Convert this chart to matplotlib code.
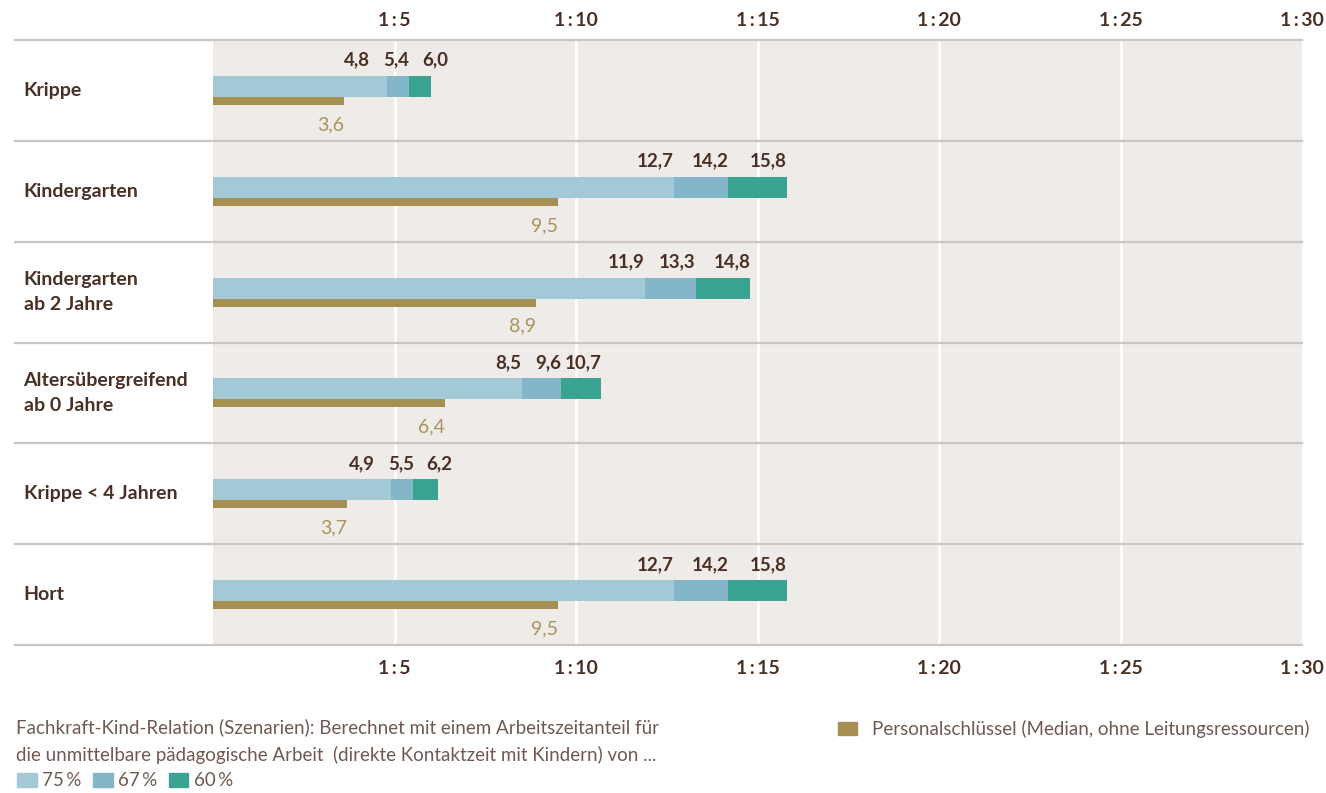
import matplotlib.pyplot as plt
from matplotlib.patches import Patch
import numpy as np

# data
categories = ["Krippe", "Kindergarten", "Kindergarten\nab 2 Jahre",
              "Altersübergreifend\nab 0 Jahre", "Krippe < 4 Jahren", "Hort"]
fkr_75 = [4.8, 12.7, 11.9, 8.5, 4.9, 12.7]
fkr_67 = [5.4, 14.2, 13.3, 9.6, 5.5, 14.2]
fkr_60 = [6.0, 15.8, 14.8, 10.7, 6.2, 15.8]
personal = [3.6, 9.5, 8.9, 6.4, 3.7, 9.5]
tick_vals = [5, 10, 15, 20, 25, 30]
tick_labels = ["1\u2009:\u20095", "1\u2009:\u200910", "1\u2009:\u200915",
               "1\u2009:\u200920", "1\u2009:\u200925", "1\u2009:\u200930"]

FONT = ["Lato", "DejaVu Sans"]
plt.rcParams['font.family'] = FONT

c75, c67, c60 = "#a3c9d7", "#83b6c9", "#3aa392"
c_gold = "#a68f52"
c_dark = "#4a3024"
c_goldtxt = "#a8955c"
c_legend = "#6e5a50"
c_bg = "#efebe8"
c_sep = "#c9c6c4"
FS = 14

fig = plt.figure(figsize=(13.26, 7.93), dpi=100)
ax = fig.add_axes([213/1326, 1 - 645/793, (1302-213)/1326, (645-40)/793])
ax.set_facecolor(c_bg)
ax.set_xlim(0, 30)
ax.set_ylim(len(categories), 0)

for v in tick_vals[:-1]:
    ax.axvline(v, color="white", lw=2, zorder=1)

for i in range(len(categories) + 1):
    ax.plot([-0.182, 1], [i, i], transform=ax.get_yaxis_transform(),
            color=c_sep, lw=1.6, clip_on=False, zorder=2)

y = np.arange(len(categories))
bh = 0.208
yb = y + 0.46
ax.barh(yb, fkr_75, height=bh, color=c75, zorder=3)
ax.barh(yb, np.subtract(fkr_67, fkr_75), left=fkr_75, height=bh, color=c67, zorder=3)
ax.barh(yb, np.subtract(fkr_60, fkr_67), left=fkr_67, height=bh, color=c60, zorder=3)
ax.barh(y + 0.604, personal, height=0.08, color=c_gold, zorder=3)

gap = 1.07
for i in range(len(categories)):
    vals = [fkr_75[i], fkr_67[i], fkr_60[i]]
    pos = list(vals)
    if min(np.diff(vals)) < gap:
        m = np.mean(vals)
        pos = [m - gap, m, m + gap]
    for p, v in zip(pos, vals):
        ax.text(p, i + 0.2, f"{v:.1f}".replace(".", ","), ha="right", va="center",
                fontsize=13.5, fontweight="bold", color=c_dark, zorder=4)
    ax.text(personal[i], i + 0.84, f"{personal[i]:.1f}".replace(".", ","),
            ha="right", va="center", fontsize=FS, color=c_goldtxt, zorder=4)
    ax.text(-0.174, i + 0.5, categories[i], transform=ax.get_yaxis_transform(),
            ha="left", va="center", fontsize=FS, fontweight="bold", color=c_dark,
            linespacing=1.6)

ax.set_xticks(tick_vals)
ax.set_xticklabels(tick_labels, fontweight="bold")
ax.set_yticks([])
ax.tick_params(axis="x", length=0, labelsize=FS, labelcolor=c_dark, pad=11)
top = ax.secondary_xaxis("top")
top.set_xticks(tick_vals)
top.set_xticklabels(tick_labels, fontweight="bold")
top.tick_params(axis="x", length=0, labelsize=FS, labelcolor=c_dark, pad=8)
for s in list(ax.spines.values()) + list(top.spines.values()):
    s.set_visible(False)

fig.text(16/1326, 1 - 727/793, "Fachkraft-Kind-Relation (Szenarien): Berechnet mit einem Arbeitszeitanteil für",
         ha="left", va="center", fontsize=13.5, color=c_legend)
fig.text(16/1326, 1 - 755/793, "die unmittelbare pädagogische Arbeit  (direkte Kontaktzeit mit Kindern) von ...",
         ha="left", va="center", fontsize=13.5, color=c_legend)

handles = [Patch(color=c75, label="75\u2009%"), Patch(color=c67, label="67\u2009%"),
           Patch(color=c60, label="60\u2009%")]
leg = fig.legend(handles=handles, loc="center left", bbox_to_anchor=(17/1326, 1 - 781/793),
                 ncol=3, frameon=False, fontsize=13.5, handlelength=1.05, handleheight=0.8,
                 handletextpad=0.3, columnspacing=0.6, borderaxespad=0, borderpad=0)
for t in leg.get_texts():
    t.set_color(c_legend)

leg2 = fig.legend(handles=[Patch(color=c_gold, label="Personalschlüssel (Median, ohne Leitungsressourcen)")],
                  loc="center left", bbox_to_anchor=(838/1326, 1 - 729/793), frameon=False,
                  fontsize=13.5, handlelength=1.0, handleheight=0.75, handletextpad=0.8,
                  borderaxespad=0, borderpad=0)
for t in leg2.get_texts():
    t.set_color(c_legend)

fig.savefig("out.png", dpi=100, facecolor="white")
